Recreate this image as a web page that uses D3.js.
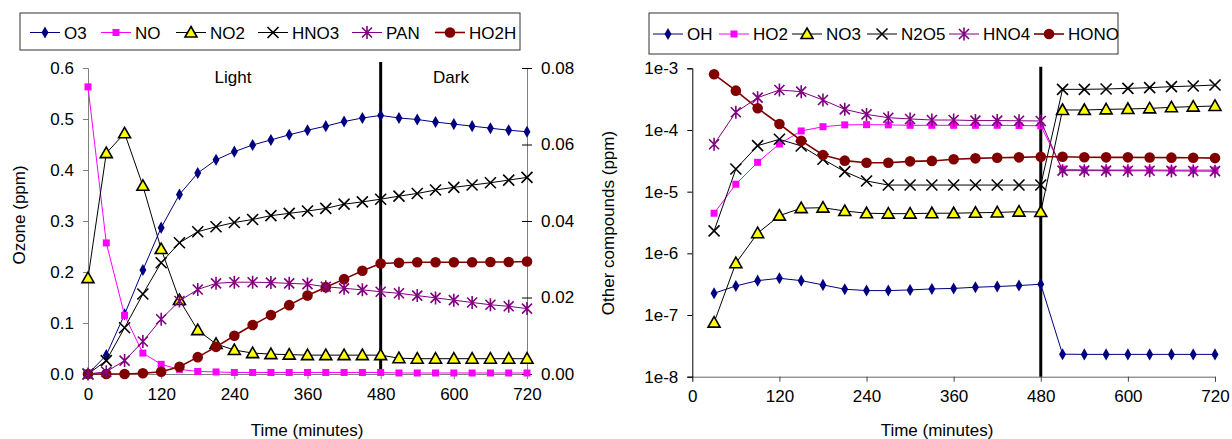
<!DOCTYPE html>
<html>
<head>
<meta charset="utf-8">
<script src="https://cdn.jsdelivr.net/npm/d3@7"></script>
<style>
  body { margin: 0; background: #fff; }
  svg { display: block; font-family: "Liberation Sans", Arial, sans-serif; }
</style>
</head>
<body>
<svg id="chart" width="1232" height="439"></svg>
<script>
// time points (minutes)
const timeLeft  = d3.range(0, 721, 30);
const timeRight = d3.range(30, 721, 30);

// left panel, primary axis (ppm)
const O3  = [0, 0.037, 0.117, 0.204, 0.287, 0.352, 0.394, 0.420, 0.436, 0.449, 0.459, 0.469, 0.478,
             0.486, 0.495, 0.502, 0.507, 0.502, 0.499, 0.494, 0.490, 0.486, 0.482, 0.478, 0.475];
const NO  = [0.563, 0.257, 0.115, 0.041, 0.019, 0.009, 0.005, 0.004, 0.003, 0.003, 0.003, 0.003, 0.003,
             0.003, 0.003, 0.003, 0.003, 0.002, 0.002, 0.002, 0.002, 0.002, 0.002, 0.002, 0.002];
const NO2 = [0.188, 0.433, 0.472, 0.369, 0.245, 0.145, 0.086, 0.059, 0.047, 0.041, 0.039, 0.038, 0.037,
             0.037, 0.037, 0.037, 0.037, 0.031, 0.030, 0.030, 0.030, 0.030, 0.030, 0.030, 0.030];
// left panel, secondary axis (ppm)
const HNO3 = [0, 0.0035, 0.0121, 0.0209, 0.0291, 0.0343, 0.0372, 0.0385, 0.0396, 0.0404, 0.0414, 0.0420, 0.0426,
              0.0433, 0.0444, 0.0450, 0.0457, 0.0465, 0.0472, 0.0481, 0.0488, 0.0494, 0.0500, 0.0507, 0.0514];
const PAN  = [0, 0.0006, 0.0035, 0.0085, 0.0143, 0.0191, 0.0221, 0.0237, 0.0240, 0.0240, 0.0239, 0.0237, 0.0235,
              0.0228, 0.0224, 0.0220, 0.0215, 0.0211, 0.0205, 0.0199, 0.0193, 0.0187, 0.0181, 0.0177, 0.0171];
const HO2H = [0, 0, 0, 0.0002, 0.0006, 0.0019, 0.0044, 0.0071, 0.0100, 0.0128, 0.0154, 0.0180, 0.0205,
              0.0227, 0.0248, 0.0270, 0.0289, 0.0291, 0.0292, 0.0292, 0.0292, 0.0292, 0.0293, 0.0293, 0.0294];

// right panel (ppm, log axis)
const OH   = [2.25e-7, 2.96e-7, 3.61e-7, 3.94e-7, 3.61e-7, 3.08e-7, 2.62e-7, 2.49e-7, 2.49e-7, 2.55e-7, 2.65e-7,
              2.70e-7, 2.82e-7, 2.90e-7, 3.00e-7, 3.16e-7, 2.32e-8, 2.30e-8, 2.30e-8, 2.30e-8, 2.30e-8, 2.30e-8, 2.30e-8, 2.30e-8];
const HO2  = [4.47e-6, 1.32e-5, 2.99e-5, 5.93e-5, 9.64e-5, 1.13e-4, 1.21e-4, 1.22e-4, 1.21e-4, 1.19e-4, 1.19e-4,
              1.19e-4, 1.19e-4, 1.19e-4, 1.18e-4, 1.17e-4, 2.31e-5, 2.26e-5, 2.25e-5, 2.25e-5, 2.25e-5, 2.24e-5, 2.24e-5, 2.24e-5];
const NO3  = [7.53e-8, 6.92e-7, 2.12e-6, 4.08e-6, 5.40e-6, 5.50e-6, 4.86e-6, 4.47e-6, 4.40e-6, 4.40e-6, 4.47e-6,
              4.47e-6, 4.55e-6, 4.60e-6, 4.74e-6, 4.67e-6, 2.11e-4, 2.11e-4, 2.16e-4, 2.19e-4, 2.24e-4, 2.33e-4, 2.39e-4, 2.45e-4];
const N2O5 = [2.31e-6, 2.33e-5, 5.57e-5, 7.06e-5, 5.51e-5, 3.35e-5, 2.11e-5, 1.49e-5, 1.28e-5, 1.28e-5, 1.28e-5,
              1.28e-5, 1.28e-5, 1.28e-5, 1.28e-5, 1.28e-5, 4.56e-4, 4.56e-4, 4.62e-4, 4.73e-4, 4.85e-4, 5.04e-4, 5.17e-4, 5.36e-4];
const HNO4 = [5.86e-5, 1.94e-4, 3.34e-4, 4.45e-4, 4.18e-4, 3.06e-4, 2.16e-4, 1.79e-4, 1.58e-4, 1.51e-4, 1.45e-4,
              1.45e-4, 1.42e-4, 1.42e-4, 1.41e-4, 1.40e-4, 2.19e-5, 2.19e-5, 2.19e-5, 2.18e-5, 2.18e-5, 2.17e-5, 2.16e-5, 2.15e-5];
const HONO = [8.0e-4, 4.34e-4, 2.25e-4, 1.25e-4, 6.7e-5, 3.93e-5, 3.18e-5, 2.95e-5, 2.95e-5, 3.10e-5, 3.15e-5,
              3.35e-5, 3.47e-5, 3.55e-5, 3.60e-5, 3.69e-5, 3.69e-5, 3.62e-5, 3.60e-5, 3.60e-5, 3.58e-5, 3.56e-5, 3.55e-5, 3.50e-5];

// tick labels
const xTicks      = [0, 120, 240, 360, 480, 600, 720];
const ozoneTicks  = [0, 0.1, 0.2, 0.3, 0.4, 0.5, 0.6];
const secondTicks = [0, 0.02, 0.04, 0.06, 0.08];
const logTicks    = [1e-8, 1e-7, 1e-6, 1e-5, 1e-4, 1e-3];
const logLabels   = ["1e-8", "1e-7", "1e-6", "1e-5", "1e-4", "1e-3"];
const switchTime  = 480;

const svg = d3.select("#chart");
const FS = 17;

// marker styles
const styles = {
  diamond:  { stroke: "#000080", fill: "#000080", width: 1 },
  square:   { stroke: "#ff00ff", fill: "#ff00ff", width: 1 },
  triangle: { stroke: "#000000", fill: "#ffff00", width: 1 },
  cross:    { stroke: "#000000", fill: "none",    width: 1 },
  star:     { stroke: "#800080", fill: "none",    width: 1 },
  circle:   { stroke: "#800000", fill: "#800000", width: 1.6 }
};

function drawMarker(sel, kind) {
  if (kind === "diamond") {
    sel.append("path").attr("d", d3.symbol(d3.symbolDiamond, 42)())
      .attr("fill", "#000080");
  } else if (kind === "square") {
    sel.append("rect").attr("x", -3.5).attr("y", -3.5).attr("width", 7).attr("height", 7)
      .attr("fill", "#ff00ff");
  } else if (kind === "triangle") {
    sel.append("path").attr("d", "M0,-6L6,4.5L-6,4.5Z")
      .attr("fill", "#ffff00").attr("stroke", "#000").attr("stroke-width", 1.6)
      .attr("stroke-linejoin", "miter");
  } else if (kind === "cross") {
    sel.append("path").attr("d", "M-5.5,-5.5L5.5,5.5M-5.5,5.5L5.5,-5.5")
      .attr("stroke", "#000").attr("stroke-width", 1.6).attr("fill", "none");
  } else if (kind === "star") {
    sel.append("path").attr("d", "M-5,-5L5,5M-5,5L5,-5M0,-6.5L0,6.5")
      .attr("stroke", "#800080").attr("stroke-width", 1.6).attr("fill", "none");
  } else if (kind === "circle") {
    sel.append("circle").attr("r", 5.3).attr("fill", "#800000");
  }
}

function drawSeries(g, times, values, x, y, kind) {
  const st = styles[kind];
  const pts = times.map((t, i) => [t, values[i]]);
  g.append("path")
    .datum(pts)
    .attr("fill", "none")
    .attr("stroke", st.stroke)
    .attr("stroke-width", st.width)
    .attr("d", d3.line().x(d => x(d[0])).y(d => y(d[1])));
  g.append("g").selectAll("g")
    .data(pts)
    .join("g")
    .attr("transform", d => `translate(${x(d[0])},${y(d[1])})`)
    .each(function() { drawMarker(d3.select(this), kind); });
}

function drawLegend(box, items, starts, textY) {
  const lg = svg.append("g");
  lg.append("rect")
    .attr("x", box[0]).attr("y", box[1]).attr("width", box[2]).attr("height", box[3])
    .attr("fill", "#fff").attr("stroke", "#333").attr("stroke-width", 1);
  items.forEach((it, i) => {
    const x0 = starts[i];
    const st = styles[it.kind];
    lg.append("line").attr("x1", x0).attr("x2", x0 + 30).attr("y1", textY).attr("y2", textY)
      .attr("stroke", st.stroke).attr("stroke-width", st.width);
    const m = lg.append("g").attr("transform", `translate(${x0 + 15},${textY})`);
    drawMarker(m, it.kind);
    lg.append("text").attr("x", x0 + 34).attr("y", textY).attr("dy", "0.36em")
      .attr("font-size", FS).text(it.name);
  });
}

// ---------------- left panel ----------------
const xL  = d3.scaleLinear().domain([0, 720]).range([88, 527]);
const yL  = d3.scaleLinear().domain([0, 0.6]).range([374, 68]);
const yL2 = d3.scaleLinear().domain([0, 0.08]).range([374, 68]);

const gL = svg.append("g");
const axisGrey = "#808080";

gL.append("g").attr("transform", "translate(0,374)")
  .call(d3.axisBottom(xL).tickValues(xTicks).tickSize(5).tickPadding(9))
  .call(a => a.select(".domain").attr("stroke", axisGrey))
  .call(a => a.selectAll("line").attr("stroke", axisGrey))
  .call(a => a.selectAll("text").attr("font-size", FS).attr("fill", "#000").attr("font-family", null));

gL.append("g").attr("transform", "translate(88,0)")
  .call(d3.axisLeft(yL).tickValues(ozoneTicks).tickFormat(d3.format(".1f")).tickSize(5).tickPadding(9))
  .call(a => a.select(".domain").attr("stroke", axisGrey))
  .call(a => a.selectAll("line").attr("stroke", axisGrey))
  .call(a => a.selectAll("text").attr("font-size", FS).attr("fill", "#000").attr("font-family", null));

gL.append("g").attr("transform", "translate(527,0)")
  .call(d3.axisRight(yL2).tickValues(secondTicks).tickFormat(d3.format(".2f")).tickSize(5).tickPadding(9))
  .call(a => a.select(".domain").attr("stroke", axisGrey))
  .call(a => a.selectAll("line").attr("stroke", "#000").attr("x1", -5))
  .call(a => a.selectAll("text").attr("font-size", FS).attr("fill", "#000").attr("font-family", null));

// light / dark divider
gL.append("line")
  .attr("x1", xL(switchTime)).attr("x2", xL(switchTime))
  .attr("y1", 62).attr("y2", 374)
  .attr("stroke", "#000").attr("stroke-width", 3);

gL.append("text").attr("x", 233).attr("y", 83).attr("text-anchor", "middle").attr("font-size", FS).text("Light");
gL.append("text").attr("x", 451).attr("y", 83).attr("text-anchor", "middle").attr("font-size", FS).text("Dark");

gL.append("text").attr("x", 307).attr("y", 436).attr("text-anchor", "middle").attr("font-size", FS)
  .text("Time (minutes)");
gL.append("text").attr("transform", "translate(25,215) rotate(-90)").attr("text-anchor", "middle")
  .attr("font-size", FS).text("Ozone (ppm)");

drawSeries(gL, timeLeft, O3,   xL, yL,  "diamond");
drawSeries(gL, timeLeft, NO,   xL, yL,  "square");
drawSeries(gL, timeLeft, NO2,  xL, yL,  "triangle");
drawSeries(gL, timeLeft, HO2H, xL, yL2, "circle");
drawSeries(gL, timeLeft, HNO3, xL, yL2, "cross");
drawSeries(gL, timeLeft, PAN,  xL, yL2, "star");

drawLegend([20, 13, 500, 37],
  [{ name: "O3", kind: "diamond" }, { name: "NO", kind: "square" }, { name: "NO2", kind: "triangle" },
   { name: "HNO3", kind: "cross" }, { name: "PAN", kind: "star" }, { name: "HO2H", kind: "circle" }],
  [30, 101, 176, 258, 352, 435], 32.5);

// ---------------- right panel ----------------
const xR = d3.scaleLinear().domain([0, 720]).range([692.3, 1215]);
const yR = d3.scaleLog().domain([1e-8, 1e-3]).range([376.7, 68.3]);

const gR = svg.append("g");

gR.append("g").attr("transform", "translate(0,376.7)")
  .call(d3.axisBottom(xR).tickValues(xTicks).tickSize(5).tickPadding(8))
  .call(a => a.select(".domain").attr("stroke", "#666"))
  .call(a => a.selectAll("line").attr("stroke", "#444"))
  .call(a => a.selectAll("text").attr("font-size", FS).attr("fill", "#000").attr("font-family", null));

gR.append("g").attr("transform", "translate(692.3,0)")
  .call(d3.axisLeft(yR).tickValues(logTicks).tickFormat((d, i) => logLabels[i]).tickSize(5).tickPadding(9))
  .call(a => a.select(".domain").attr("stroke", "#000"))
  .call(a => a.selectAll("line").attr("stroke", "#000"))
  .call(a => a.selectAll("text").attr("font-size", FS).attr("fill", "#000").attr("font-family", null));

gR.append("line")
  .attr("x1", xR(switchTime)).attr("x2", xR(switchTime))
  .attr("y1", 66.7).attr("y2", 376.7)
  .attr("stroke", "#000").attr("stroke-width", 3);

gR.append("text").attr("x", 937).attr("y", 436).attr("text-anchor", "middle").attr("font-size", FS)
  .text("Time (minutes)");
gR.append("text").attr("transform", "translate(614,223) rotate(-90)").attr("text-anchor", "middle")
  .attr("font-size", FS).text("Other compounds (ppm)");

drawSeries(gR, timeRight, OH,   xR, yR, "diamond");
drawSeries(gR, timeRight, HO2,  xR, yR, "square");
drawSeries(gR, timeRight, NO3,  xR, yR, "triangle");
drawSeries(gR, timeRight, N2O5, xR, yR, "cross");
drawSeries(gR, timeRight, HNO4, xR, yR, "star");
drawSeries(gR, timeRight, HONO, xR, yR, "circle");

drawLegend([649, 13, 469, 41],
  [{ name: "OH", kind: "diamond" }, { name: "HO2", kind: "square" }, { name: "NO3", kind: "triangle" },
   { name: "N2O5", kind: "cross" }, { name: "HNO4", kind: "star" }, { name: "HONO", kind: "circle" }],
  [653, 719, 792, 867, 949, 1034], 34);
</script>
</body>
</html>
